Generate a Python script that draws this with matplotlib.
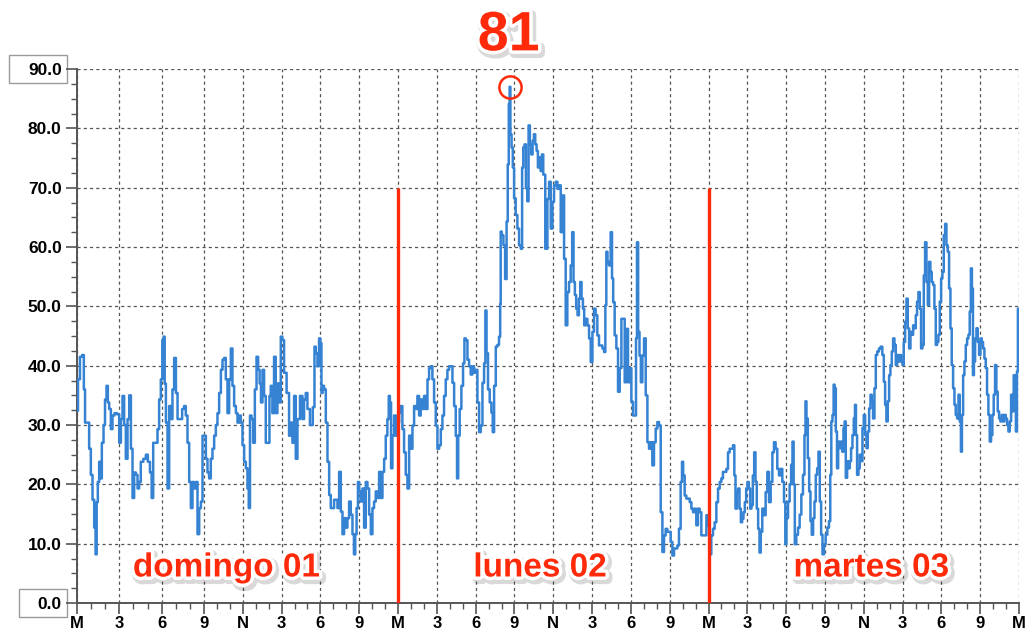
import numpy as np
import matplotlib
matplotlib.use("Agg")
import matplotlib.pyplot as plt
import matplotlib.patheffects as pe
from matplotlib.patches import Rectangle
from matplotlib.transforms import blended_transform_factory
from matplotlib.ticker import FixedLocator, MultipleLocator, FormatStrFormatter

plt.rcParams['font.family'] = ['Liberation Sans', 'DejaVu Sans']

# ---- Data (hours from sunday 00:00, value) ----
day1_h = [0.0, 0.14, 0.28, 0.45, 0.52, 0.62, 0.8, 0.92, 1.04, 1.16,
          1.28, 1.35, 1.44, 1.51, 1.63, 1.7, 1.82, 1.94, 2.03, 2.15,
          2.22, 2.34, 2.46, 2.57, 2.74, 2.93, 3.05, 3.17, 3.28, 3.4,
          3.52, 3.64, 3.76, 3.88, 3.99, 4.11, 4.23, 4.35, 4.46, 4.58,
          4.82, 4.94, 5.1, 5.24, 5.34, 5.46, 5.65, 5.76, 5.88, 6.0,
          6.09, 6.19, 6.24, 6.36, 6.47, 6.59, 6.71, 6.82, 6.95, 7.07,
          7.18, 7.37, 7.53, 7.65, 7.77, 7.89, 8.01, 8.13, 8.24, 8.36,
          8.48, 8.6, 8.72, 8.84, 8.95, 9.08, 9.21, 9.33, 9.46, 9.59,
          9.72, 9.85, 9.98, 10.1, 10.24, 10.37, 10.49, 10.62, 10.75, 10.88,
          11.01, 11.14, 11.26, 11.4, 11.53, 11.65, 11.78, 11.91, 12.04, 12.17,
          12.3, 12.42, 12.5, 12.61, 12.73, 12.86, 13.0, 13.12, 13.25, 13.35,
          13.46, 13.58, 13.71, 13.84, 14.02, 14.1, 14.22, 14.35, 14.48, 14.61,
          14.74, 14.87, 15.0, 15.12, 15.26, 15.51, 15.64, 15.77, 15.9, 16.03,
          16.16, 16.29, 16.55, 16.67, 16.8, 16.93, 17.06, 17.32, 17.5, 17.58,
          17.71, 17.83, 17.96, 18.04, 18.12, 18.22, 18.35, 18.48, 18.61, 18.74,
          18.86, 18.99, 19.12, 19.25, 19.38, 19.51, 19.64, 19.77, 19.89, 20.02,
          20.15, 20.28, 20.41, 20.54, 20.64, 20.74, 20.85, 20.95, 21.05, 21.18,
          21.31, 21.44, 21.57, 21.7, 21.83, 21.96, 22.08, 22.21, 22.34, 22.47,
          22.6, 22.73, 22.86, 22.99, 23.11, 23.24, 23.32, 23.42, 23.5, 23.63,
          23.76, 23.89]
day1_v = [32.4, 37.7, 41.5, 41.8, 36, 30.4, 30.4, 26, 21.6, 17.4,
          12.7, 8.2, 17, 20.4, 23.8, 21, 27, 30, 34.3, 36.6,
          33.8, 32.7, 29.3, 31.6, 32, 31.8, 27, 31, 34.9, 30,
          24.3, 31, 35, 26, 17.7, 22, 21.6, 19.3, 20.4, 23.8,
          24.3, 25, 23.8, 22, 17.7, 27, 27, 29.3, 34.3, 37.7,
          44.3, 44.9, 37, 30.4, 19.3, 33.2, 31, 36, 41.3, 35.4,
          31, 31, 32.7, 33.2, 31.6, 27, 20.4, 16, 20.4, 19.3,
          20.4, 11.6, 16, 17.1, 28.2, 28.2, 24.3, 22, 21, 24.3,
          26, 28.2, 30, 32, 35.4, 39.3, 41, 41.3, 37.7, 32,
          37.7, 42.9, 36.6, 33.2, 32, 30.4, 31.6, 30.4, 26.6, 23.8,
          22.7, 19.3, 16, 31.6, 31, 27, 36, 41.5, 39.3, 37,
          33.8, 39.3, 34.9, 27, 27, 34.9, 36.6, 32, 41.5, 32,
          37, 33.8, 44.9, 44.3, 38.8, 35.4, 28.2, 30.4, 27, 34.9,
          24.3, 31, 34.9, 31, 34.3, 35.4, 32.7, 30, 33, 43.2,
          42.1, 39.9, 44.6, 43.8, 35.4, 36.6, 36, 30.4, 23.8, 18.2,
          16, 16, 17.4, 17.4, 16, 22.1, 15.4, 11.6, 14.3, 12.7,
          14.3, 17.1, 14.9, 11.6, 8.2, 11.6, 16, 20.4, 18.8, 17.1,
          19.3, 12.7, 20.4, 19.3, 14.9, 11.6, 16, 17.1, 18.8, 17.7,
          22.1, 17.7, 22.1, 24.3, 28.2, 31, 34.9, 33.8, 22.7, 28.2,
          31.6, 28.2]

day2_h = [24.02, 24.15, 24.27, 24.4, 24.53, 24.66, 24.79, 24.92, 25.05, 25.18,
          25.3, 25.43, 25.56, 25.69, 25.82, 25.95, 26.08, 26.21, 26.34, 26.46,
          26.59, 26.72, 26.85, 26.98, 27.11, 27.24, 27.37, 27.49, 27.62, 27.75,
          27.88, 28.01, 28.14, 28.27, 28.4, 28.52, 28.6, 28.7, 28.83, 28.96,
          29.09, 29.17, 29.3, 29.43, 29.55, 29.68, 29.81, 29.94, 30.07, 30.2,
          30.33, 30.46, 30.59, 30.71, 30.79, 30.89, 31.02, 31.15, 31.28, 31.36,
          31.49, 31.62, 31.74, 31.87, 31.92, 31.95, 32.08, 32.21, 32.34, 32.44,
          32.52, 32.6, 32.65, 32.72, 32.83, 32.91, 33.03, 33.16, 33.29, 33.42,
          33.55, 33.63, 33.73, 33.83, 33.94, 34.04, 34.14, 34.24, 34.35, 34.45,
          34.55, 34.66, 34.76, 34.86, 34.97, 35.07, 35.17, 35.28, 35.48, 35.61,
          35.74, 35.87, 36.0, 36.12, 36.25, 36.38, 36.51, 36.64, 36.77, 36.9,
          37.02, 37.15, 37.28, 37.41, 37.51, 37.62, 37.72, 37.82, 37.93, 38.03,
          38.13, 38.24, 38.34, 38.44, 38.57, 38.7, 38.83, 38.96, 39.09, 39.21,
          39.34, 39.47, 39.6, 39.73, 39.86, 39.99, 40.06, 40.14, 40.24, 40.37,
          40.5, 40.58, 40.68, 40.81, 40.94, 41.07, 41.2, 41.33, 41.46, 41.58,
          41.71, 41.84, 41.97, 42.1, 42.23, 42.36, 42.43, 42.51, 42.61, 42.72,
          42.82, 42.95, 43.08, 43.21, 43.34, 43.46, 43.59, 43.72, 43.85, 43.98,
          44.11, 44.24, 44.37, 44.5, 44.62, 44.75, 44.88, 45.01, 45.14, 45.27,
          45.4, 45.53, 45.65, 45.78, 45.91, 45.99, 46.09, 46.22, 46.35, 46.48,
          46.61, 46.74, 46.86, 46.99, 47.12, 47.25, 47.38, 47.51, 47.64, 47.77,
          47.9]
day2_v = [30.4, 32.1, 33.2, 29.3, 25.4, 21.6, 19.3, 28.2, 26, 29.9,
          33.2, 32.7, 34.9, 31.6, 34.3, 32.7, 34.9, 32.7, 37.7, 39.6,
          39.9, 37.7, 33.8, 29.9, 26, 26.6, 29.3, 31.6, 34.9, 37.7,
          39.3, 39.9, 39.9, 37.1, 33.2, 28.2, 21, 28.2, 32.7, 36.6,
          40.4, 44.6, 44.3, 41, 39.9, 38.5, 39.9, 38.8, 39.3, 33.8,
          28.8, 29.9, 37.1, 40.4, 49.3, 42.1, 36, 33.8, 32.1, 28.8,
          36.6, 43.2, 43.5, 44.9, 50.4, 62.6, 62, 60.3, 54.6, 64.3,
          73.9, 84.1, 87, 79, 76.8, 73.4, 68.2, 65.4, 63.1, 60.3,
          59.7, 73.4, 76.8, 77.3, 69.9, 67.7, 80.5, 77.3, 75.6, 77.9,
          79, 77.3, 76.2, 73.4, 75.1, 72.8, 75.6, 72.2, 59.7, 68.1,
          71, 63.1, 67.6, 70.4, 71, 69.8, 70.4, 62.5, 68.7, 58,
          46.8, 52.4, 54.1, 56.9, 62.5, 54.1, 51.9, 49.6, 48.5, 51.3,
          54.1, 51.3, 49.6, 46.8, 47.9, 46.8, 44.6, 40.6, 45.7, 49.6,
          48.5, 45.1, 43.4, 43.4, 42.9, 42.3, 50.2, 59.2, 57.5, 56.9,
          62.5, 54.7, 50.7, 45.1, 42.9, 35.6, 39.6, 47.9, 47.9, 37.2,
          46.2, 37.2, 39.6, 33.9, 31.6, 31.6, 44.6, 60.8, 45.7, 41.7,
          37.2, 41.7, 44.6, 35, 27.1, 26, 27.1, 23.2, 27.1, 29.4,
          30.5, 29.9, 15.3, 8.6, 11.4, 12.5, 12, 12, 10.3, 8,
          9.2, 9.2, 9.7, 12.5, 20.4, 23.8, 21.5, 18.1, 17.6, 17.6,
          17, 15.9, 15.3, 15.9, 13.1, 15.9, 15.3, 11.4, 11.4, 11.4,
          14.8]

day3_h = [48.02, 48.15, 48.28, 48.41, 48.54, 48.67, 48.8, 48.93, 49.05, 49.18,
          49.31, 49.44, 49.57, 49.7, 49.83, 49.96, 50.03, 50.14, 50.24, 50.34,
          50.45, 50.55, 50.65, 50.75, 50.86, 50.96, 51.06, 51.17, 51.27, 51.37,
          51.48, 51.58, 51.68, 51.78, 51.89, 51.99, 52.09, 52.22, 52.35, 52.48,
          52.61, 52.74, 52.87, 53.0, 53.12, 53.25, 53.38, 53.51, 53.64, 53.77,
          53.9, 53.97, 54.08, 54.21, 54.33, 54.44, 54.54, 54.62, 54.72, 54.85,
          54.98, 55.11, 55.24, 55.36, 55.47, 55.52, 55.62, 55.73, 55.83, 55.93,
          56.03, 56.14, 56.24, 56.34, 56.45, 56.55, 56.65, 56.76, 56.86, 56.99,
          57.12, 57.25, 57.37, 57.45, 57.53, 57.63, 57.71, 57.79, 57.89, 57.97,
          58.07, 58.17, 58.28, 58.38, 58.48, 58.56, 58.66, 58.77, 58.87, 58.97,
          59.07, 59.18, 59.28, 59.36, 59.43, 59.54, 59.64, 59.74, 59.85, 59.95,
          60.05, 60.16, 60.26, 60.36, 60.47, 60.57, 60.67, 60.77, 60.88, 60.98,
          61.11, 61.24, 61.37, 61.5, 61.6, 61.7, 61.8, 61.91, 62.01, 62.11,
          62.22, 62.32, 62.42, 62.53, 62.63, 62.73, 62.84, 62.94, 63.04, 63.14,
          63.25, 63.35, 63.45, 63.56, 63.66, 63.76, 63.87, 63.97, 64.07, 64.17,
          64.28, 64.38, 64.48, 64.59, 64.69, 64.79, 64.9, 65.0, 65.1, 65.2,
          65.31, 65.41, 65.51, 65.62, 65.72, 65.82, 65.93, 66.03, 66.13, 66.24,
          66.34, 66.44, 66.54, 66.65, 66.75, 66.85, 66.96, 67.06, 67.16, 67.27,
          67.37, 67.47, 67.55, 67.63, 67.73, 67.83, 67.94, 68.04, 68.14, 68.24,
          68.32, 68.4, 68.48, 68.55, 68.66, 68.76, 68.86, 68.97, 69.07, 69.17,
          69.27, 69.38, 69.48, 69.58, 69.69, 69.79, 69.89, 69.99, 70.1, 70.2,
          70.3, 70.41, 70.51, 70.61, 70.72, 70.82, 70.92, 71.03, 71.13, 71.23,
          71.34, 71.44, 71.54, 71.64, 71.72, 71.8, 71.88, 71.95]
day3_v = [13.1, 8.2, 11.4, 12.5, 13.6, 17, 19.3, 20.4, 21, 22.1,
          22.1, 22.6, 25.4, 26, 26, 26.6, 21.5, 15.9, 18.7, 19.3,
          15.9, 13.6, 14.2, 15.3, 17, 19.3, 20.4, 19.3, 15.9, 16.5,
          21.5, 25.4, 20.4, 15.9, 12.5, 8.5, 12, 15.9, 14.8, 18.7,
          22.1, 17, 20.4, 25.4, 27.1, 26, 22.6, 21.5, 22.6, 20.4,
          17, 9.9, 14.3, 17.1, 20, 23.3, 27.2, 20, 9.9, 11.5,
          12.7, 14.9, 18.3, 21.6, 28.3, 34, 31.1, 24.4, 18.8, 13.8,
          11.5, 14.3, 17.1, 21.6, 22.7, 25.5, 17.1, 11.5, 8.2, 9.9,
          11.5, 12.7, 13.8, 21.6, 30.6, 31.7, 36.8, 36.2, 28.9, 22.7,
          27.2, 26.1, 27.2, 25.5, 29.5, 30.6, 21.1, 23.9, 22.7, 23.9,
          26.1, 28.3, 31.1, 33.4, 28.3, 21.6, 22.7, 25, 23.9, 29.5,
          31.7, 28.3, 26.1, 28.9, 32.8, 35.1, 34, 31.1, 36.2, 41.8,
          42.4, 42.9, 43.2, 41.8, 37.3, 33.4, 30.6, 34, 38.4, 40.1,
          42.4, 44.6, 43.5, 40.1, 41.8, 40.7, 41.8, 40.7, 40.1, 44,
          47.4, 51.3, 46.3, 42.9, 45.7, 45.2, 46.8, 46.3, 48.5, 50.8,
          52.4, 49.6, 42.9, 43.5, 55.2, 60.8, 54.1, 50.2, 57.5, 55.8,
          54.1, 53.6, 49.6, 43.5, 44, 45.2, 50.8, 54.7, 55.8, 62,
          63.9, 60.3, 59.2, 53, 46.3, 40.1, 36.2, 33.4, 31.7, 31.1,
          35.1, 30.6, 25.5, 31.7, 38.4, 40.7, 43.5, 44.6, 45.2, 49.1,
          56.4, 53, 38.4, 40.7, 44.6, 46.3, 44, 41.8, 44.6, 44,
          42.9, 41.2, 39.6, 35.1, 31.7, 27.2, 28.3, 31.7, 35.1, 40.1,
          35.6, 32.3, 31.1, 30.6, 31.7, 30.6, 31.7, 31.1, 30, 28.9,
          30.6, 35.1, 32.3, 38.4, 36.8, 28.9, 39, 49.6]

DAY_NAMES = ["domingo 01", "lunes 02", "martes 03"]
DAY_NAME_X = [10.75, 35.0, 60.6]
HOUR_LABELS = ["M", "3", "6", "9", "N", "3", "6", "9"] * 3 + ["M"]
PEAK_TEXT = "81"

RED = "#ff2a0a"
BLUE = "#3683d3"
GREY = "#555555"

hours = np.array(day1_h + day2_h + day3_h)
load = np.array(day1_v + day2_v + day3_v)


# the source chart draws the first 9 hours a bit wider than the rest
def fwd(h):
    h = np.asarray(h, dtype=float)
    return np.where(h < 9, h * 127 / 9, 127 + (h - 9) * 815 / 63)


def inv(p):
    p = np.asarray(p, dtype=float)
    return np.where(p < 127, p * 9 / 127, 9 + (p - 127) * 63 / 815)


fig = plt.figure(figsize=(10.27, 6.3), dpi=100)
ax = fig.add_axes([77 / 1027, 27 / 630, 942 / 1027, 534 / 630])
ax.set_xscale('function', functions=(fwd, inv))

ax.plot(hours, load, color=BLUE, lw=1.8, drawstyle='steps-mid', zorder=3)
ax.vlines([24, 48], 0, 70, color=RED, lw=2.4, zorder=4)

i = int(np.argmax(load))
ax.plot(hours[i], load[i], 'o', ms=16, mfc='none', mec=RED, mew=1.8, zorder=5, clip_on=False)

ax.set_xlim(0, 72)
ax.set_ylim(0, 90)
ax.xaxis.set_major_locator(FixedLocator(np.arange(0, 73, 3)))
ax.xaxis.set_minor_locator(FixedLocator(np.arange(0, 73, 1)))
ax.set_xticklabels(HOUR_LABELS)
ax.yaxis.set_major_locator(MultipleLocator(10))
ax.yaxis.set_minor_locator(MultipleLocator(2.5))
ax.yaxis.set_major_formatter(FormatStrFormatter('%.1f'))

ax.grid(which='major', color=GREY, ls=(0, (2.5, 2.5)), lw=0.9, zorder=1)
for s in ['top', 'right']:
    ax.spines[s].set_visible(False)
for s in ['left', 'bottom']:
    ax.spines[s].set_color(GREY)
    ax.spines[s].set_linewidth(1.4)
ax.tick_params(which='major', length=8, width=1.2, color=GREY,
               labelsize=12.5, labelcolor='black')
ax.tick_params(axis='y', which='major', pad=3)
ax.tick_params(axis='x', which='major', pad=1, labelsize=12)
ax.tick_params(which='minor', length=4.5, width=1.0, color=GREY)
for lab in ax.get_xticklabels() + ax.get_yticklabels():
    lab.set_fontweight('bold')

# boxed end labels on the value axis
trans = blended_transform_factory(ax.transAxes, ax.transData)
ax.add_patch(Rectangle((-0.0722, 87.6), 0.0616, 4.8, transform=trans, clip_on=False,
                       facecolor='white', edgecolor='#9a9a9a', lw=1.0, zorder=0.5))
ax.add_patch(Rectangle((-0.0616, -2.4), 0.051, 4.8, transform=trans, clip_on=False,
                       facecolor='white', edgecolor='#9a9a9a', lw=1.0, zorder=0.5))

fx = [pe.Stroke(linewidth=7, foreground=(0, 0, 0, 0.15), offset=(1.5, -2)),
      pe.Stroke(linewidth=5, foreground='white'), pe.Normal()]

for name, x in zip(DAY_NAMES, DAY_NAME_X):
    ax.text(x, 5.9, name, color=RED, fontsize=24, fontweight='bold',
            ha='center', va='center', zorder=6, path_effects=fx)

ax.text(hours[i] - 0.1, 95.5, PEAK_TEXT, color=RED, fontsize=40, fontweight='bold',
        ha='center', va='center', clip_on=False, zorder=6, path_effects=fx)

fig.savefig('out.png', dpi=100, facecolor='white')
